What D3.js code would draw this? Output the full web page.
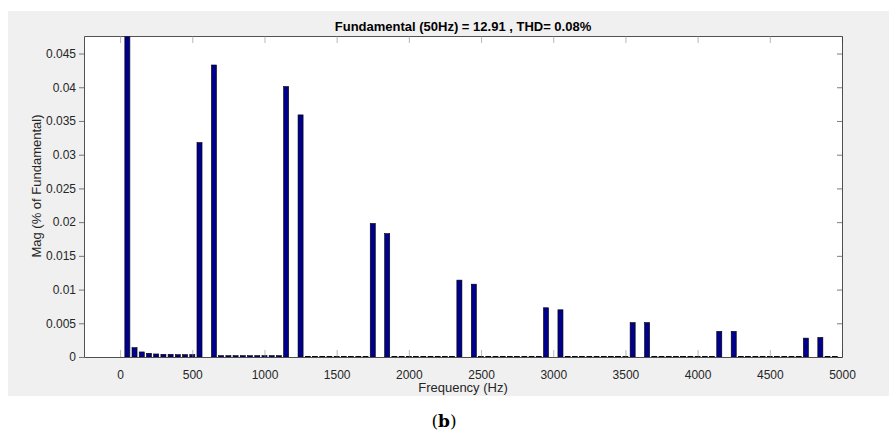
<!DOCTYPE html>
<html>
<head>
<meta charset="utf-8">
<script src="https://cdn.jsdelivr.net/npm/d3@7"></script>
<style>
  body { margin: 0; background: #fff; }
  svg { display: block; font-family: "Liberation Sans", Arial, sans-serif; }
</style>
</head>
<body>
<div id="chart"></div>
<script>
// harmonic spectrum, 50 Hz fundamental, values in % of fundamental
const fundamental = 50;
const mags = [
  100, 0.00138, 0.00075, 0.00055, 0.00045, 0.0004, 0.0004, 0.00035, 0.00035, 0.00035,
  0.0318, 0, 0.0433, 0.0002, 0.0002, 0.0002, 0.0002, 0.0002, 0.0002, 0.0002,
  0.0002, 0.0002, 0.0401, 0, 0.0359, 0.0001, 0.0001, 0.0001, 0.0001, 0.0001,
  0.0001, 0.0001, 0.0001, 0.0001, 0.0198, 0, 0.0183, 0.0001, 0.0001, 0.0001,
  0.0001, 0.0001, 0.0001, 0.0001, 0.0001, 0.0001, 0.0114, 0, 0.0108, 0.0001,
  0.0001, 0.0001, 0.0001, 0.0001, 0.0001, 0.0001, 0.0001, 0.0001, 0.0073, 0,
  0.0070, 0.0001, 0.0001, 0.0001, 0.0001, 0.0001, 0.0001, 0.0001, 0.0001, 0.0001,
  0.0051, 0, 0.0051, 0.0001, 0.0001, 0.0001, 0.0001, 0.0001, 0.0001, 0.0001,
  0.0001, 0.0001, 0.0038, 0, 0.0038, 0.0001, 0.0001, 0.0001, 0.0001, 0.0001,
  0.0001, 0.0001, 0.0001, 0.0001, 0.0028, 0, 0.0029, 0.0001, 0.0001
];
const freqs = mags.map((d, i) => fundamental * (i + 1));
const xTicks = [0, 500, 1000, 1500, 2000, 2500, 3000, 3500, 4000, 4500, 5000];
const yTicks = [0, 0.005, 0.01, 0.015, 0.02, 0.025, 0.03, 0.035, 0.04, 0.045];
const yTickLabels = ["0", "0.005", "0.01", "0.015", "0.02", "0.025", "0.03", "0.035", "0.04", "0.045"];
const title = "Fundamental (50Hz) = 12.91 , THD= 0.08%";

const W = 889, H = 440;
const margin = {top: 36, right: 47, bottom: 83, left: 84};
const w = W - margin.left - margin.right;
const h = H - margin.top - margin.bottom;
const axisCol = "#262626";

const svg = d3.select("#chart").append("svg")
  .attr("width", W)
  .attr("height", H);

// grey figure panel
svg.append("rect")
  .attr("x", 8).attr("y", 11)
  .attr("width", W - 8).attr("height", 385)
  .attr("fill", "#f0f0f0");

const x = d3.scaleLinear().domain([-250, 5000]).range([0, w]);
const y = d3.scaleLinear().domain([0, 0.0476]).range([h, 0]);
const barW = x(35) - x(0);

const g = svg.append("g")
  .attr("transform", `translate(${margin.left},${margin.top})`);

g.append("rect")
  .attr("width", w).attr("height", h)
  .attr("fill", "#fff");

svg.append("defs").append("clipPath").attr("id", "clip")
  .append("rect").attr("width", w).attr("height", h);

g.append("g")
  .attr("clip-path", "url(#clip)")
  .selectAll("rect")
  .data(freqs.map((f, i) => ({f: f, v: mags[i]})).filter(d => d.v > 0))
  .enter()
  .append("rect")
  .attr("x", d => x(d.f) - barW / 2)
  .attr("y", d => y(d.v))
  .attr("width", barW)
  .attr("height", d => h - y(d.v))
  .attr("fill", "#00008b")
  .attr("stroke", "#000")
  .attr("stroke-width", 0.6);

// axes: bottom with labels, top ticks only, left with labels, right ticks only
const xAxis = g.append("g")
  .attr("transform", `translate(0,${h})`)
  .call(d3.axisBottom(x).tickValues(xTicks).tickSize(-7).tickPadding(13)
    .tickFormat(d3.format("d")).tickSizeOuter(0));
const xTop = g.append("g")
  .call(d3.axisTop(x).tickValues(xTicks).tickSize(-7).tickFormat("").tickSizeOuter(0));
const yAxis = g.append("g")
  .call(d3.axisLeft(y).tickValues(yTicks).tickSize(5).tickPadding(3).tickSizeOuter(0)
    .tickFormat((d, i) => yTickLabels[i]));
const yRight = g.append("g")
  .attr("transform", `translate(${w},0)`)
  .call(d3.axisRight(y).tickValues(yTicks).tickSize(-5).tickFormat("").tickSizeOuter(0));

[xAxis, xTop, yAxis, yRight].forEach(a => {
  a.selectAll("path").attr("stroke", axisCol).attr("stroke-width", 0.8);
  a.selectAll("line").attr("stroke", axisCol).attr("stroke-width", 0.6);
  a.selectAll("text").attr("fill", axisCol).style("font-size", "12px")
    .style("font-family", "Liberation Sans, Arial, sans-serif");
});
xTop.selectAll("line").attr("stroke", "#888");
xAxis.selectAll("line").attr("stroke", "#888");

// title and labels
svg.append("text")
  .attr("x", margin.left + w / 2)
  .attr("y", 31)
  .attr("text-anchor", "middle")
  .style("font-size", "13px")
  .style("font-weight", "bold")
  .attr("fill", "#000")
  .text(title);

svg.append("text")
  .attr("x", margin.left + w / 2)
  .attr("y", 392)
  .attr("text-anchor", "middle")
  .style("font-size", "13px")
  .attr("fill", axisCol)
  .text("Frequency (Hz)");

svg.append("text")
  .attr("transform", `translate(41,186) rotate(-90)`)
  .attr("text-anchor", "middle")
  .style("font-size", "13px")
  .attr("fill", axisCol)
  .text("Mag (% of Fundamental)");

// panel caption
const cap = svg.append("text")
  .attr("x", 444)
  .attr("y", 427)
  .attr("text-anchor", "middle")
  .style("font-family", "DejaVu Serif, Liberation Serif, serif")
  .style("font-size", "17px")
  .attr("fill", "#000");
cap.append("tspan").text("(");
cap.append("tspan").style("font-weight", "bold").text("b");
cap.append("tspan").text(")");
</script>
</body>
</html>
